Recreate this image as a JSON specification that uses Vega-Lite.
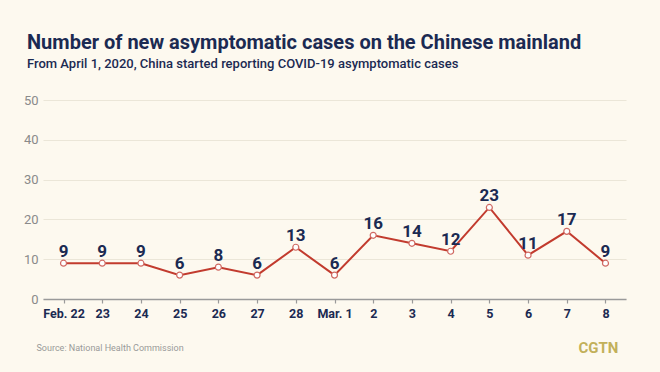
{
  "$schema": "https://vega.github.io/schema/vega-lite/v6.json",
  "width": 583,
  "height": 199,
  "autosize": {"type": "none"},
  "padding": {"left": 43, "top": 100, "right": 34, "bottom": 73},
  "background": "#fdf9ef",
  "title": {
    "text": "Number of new asymptomatic cases on the Chinese mainland",
    "subtitle": "From April 1, 2020, China started reporting COVID-19 asymptomatic cases",
    "anchor": "start",
    "frame": "group",
    "dx": -16,
    "offset": 23,
    "font": "Roboto",
    "fontSize": 20,
    "fontWeight": "bold",
    "color": "#1b2a52",
    "subtitleFont": "Roboto",
    "subtitleFontSize": 13,
    "subtitleFontWeight": 500,
    "subtitleColor": "#1b2a52",
    "subtitlePadding": 5
  },
  "config": {"view": {"stroke": null}},
  "data": {
    "values": [
      {"day": "Feb. 22", "cases": 9},
      {"day": "23", "cases": 9},
      {"day": "24", "cases": 9},
      {"day": "25", "cases": 6},
      {"day": "26", "cases": 8},
      {"day": "27", "cases": 6},
      {"day": "28", "cases": 13},
      {"day": "Mar. 1", "cases": 6},
      {"day": "2", "cases": 16},
      {"day": "3", "cases": 14},
      {"day": "4", "cases": 12},
      {"day": "5", "cases": 23},
      {"day": "6", "cases": 11},
      {"day": "7", "cases": 17},
      {"day": "8", "cases": 9}
    ]
  },
  "encoding": {
    "x": {
      "field": "day",
      "type": "ordinal",
      "sort": null,
      "scale": {"type": "point", "padding": 0.53},
      "axis": {
        "grid": false,
        "domainColor": "#9a9a9a",
        "domainWidth": 1.5,
        "tickColor": "#9a9a9a",
        "tickWidth": 1.2,
        "tickSize": 4,
        "labelAngle": 0,
        "labelFont": "Roboto",
        "labelFontSize": 12.5,
        "labelFontWeight": "bold",
        "labelColor": "#1b2a52",
        "labelPadding": 4,
        "title": "Source: National Health Commission",
        "titleFont": "Roboto",
        "titleFontSize": 9,
        "titleFontWeight": "normal",
        "titleColor": "#999999",
        "titleAlign": "left",
        "titleAnchor": null,
        "titleX": -7,
        "titleY": 51,
        "titleBaseline": "alphabetic"
      }
    },
    "y": {
      "field": "cases",
      "type": "quantitative",
      "scale": {"domain": [0, 50]},
      "axis": {
        "values": [0, 10, 20, 30, 40, 50],
        "grid": true,
        "gridColor": "#ebe6d8",
        "gridWidth": 1.2,
        "domain": false,
        "ticks": false,
        "labelFont": "Roboto",
        "labelFontSize": 13,
        "labelColor": "#8a8a8a",
        "labelPadding": 5,
        "title": "CGTN",
        "titleAngle": 0,
        "titleFont": "Roboto",
        "titleFontSize": 15,
        "titleFontWeight": "bold",
        "titleColor": "#c2b05a",
        "titleAlign": "left",
        "titleAnchor": null,
        "titleX": 535,
        "titleY": 252,
        "titleBaseline": "alphabetic"
      }
    }
  },
  "layer": [
    {"mark": {"type": "line", "color": "#c23b2e", "strokeWidth": 2}},
    {"mark": {"type": "point", "filled": true, "fill": "#ffffff", "stroke": "#d06a63", "strokeWidth": 1.2, "size": 36, "opacity": 1}},
    {
      "mark": {"type": "text", "baseline": "alphabetic", "dy": -6, "font": "Roboto", "fontSize": 17, "fontWeight": "bold", "color": "#1b2a52"},
      "encoding": {"text": {"field": "cases", "type": "quantitative"}}
    }
  ]
}
